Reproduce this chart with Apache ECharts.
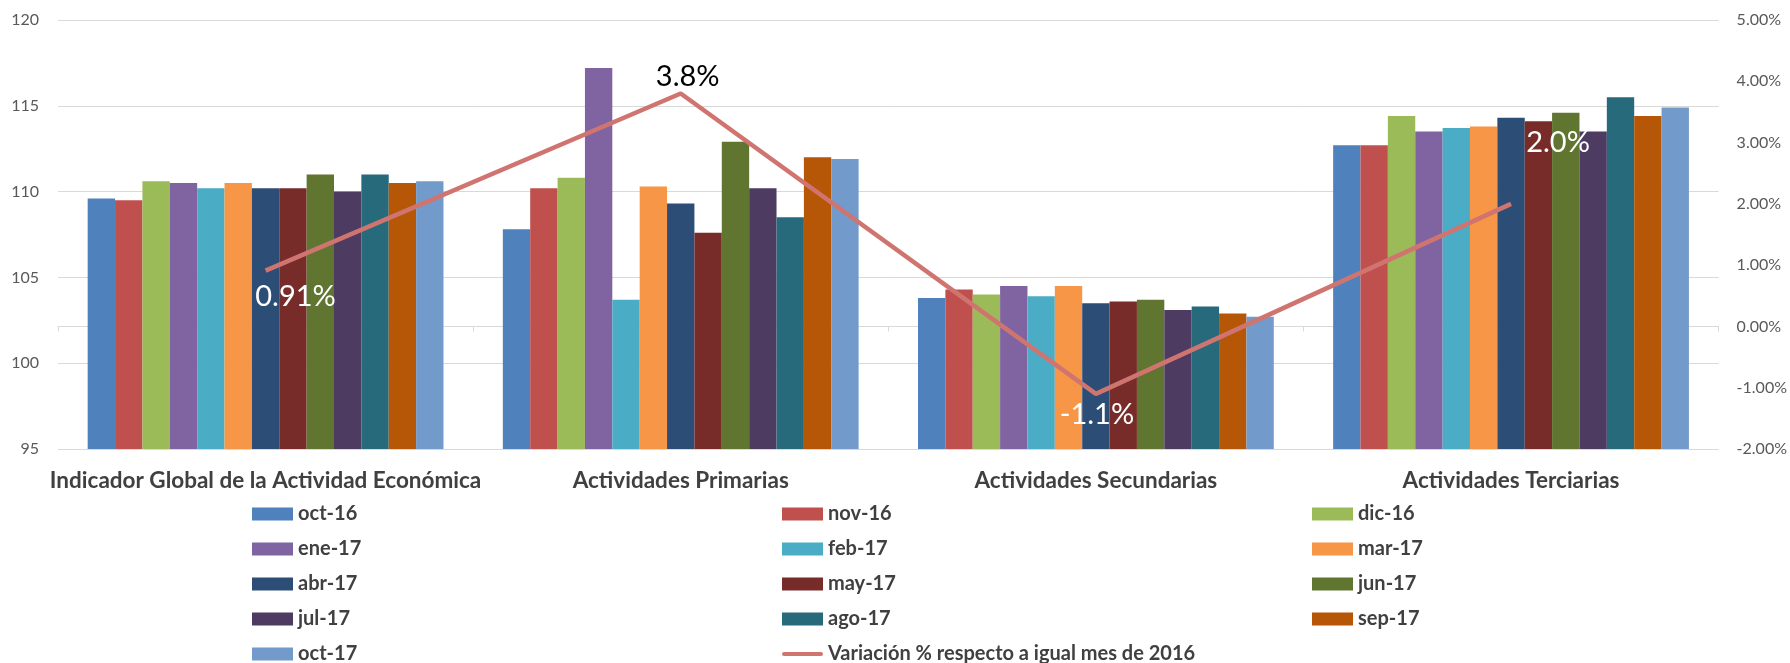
<!DOCTYPE html>
<html>
<head>
<meta charset="utf-8">
<script src="https://cdn.jsdelivr.net/npm/echarts@6/dist/echarts.min.js"></script>
<style>
  html, body { margin: 0; padding: 0; background: #fff; }
  #chart { width: 1790px; height: 663px; }
</style>
</head>
<body>
<div id="chart"></div>
<script>
var categorias = ['Indicador Global de la Actividad Económica', 'Actividades Primarias', 'Actividades Secundarias', 'Actividades Terciarias'];

var meses = ['oct-16', 'nov-16', 'dic-16', 'ene-17', 'feb-17', 'mar-17', 'abr-17', 'may-17', 'jun-17', 'jul-17', 'ago-17', 'sep-17', 'oct-17'];

// indice por mes: [IGAE, primarias, secundarias, terciarias]
var oct16 = [109.6, 107.8, 103.8, 112.7];
var nov16 = [109.5, 110.2, 104.3, 112.7];
var dic16 = [110.6, 110.8, 104.0, 114.4];
var ene17 = [110.5, 117.2, 104.5, 113.5];
var feb17 = [110.2, 103.7, 103.9, 113.7];
var mar17 = [110.5, 110.3, 104.5, 113.8];
var abr17 = [110.2, 109.3, 103.5, 114.3];
var may17 = [110.2, 107.6, 103.6, 114.1];
var jun17 = [111.0, 112.9, 103.7, 114.6];
var jul17 = [110.0, 110.2, 103.1, 113.5];
var ago17 = [111.0, 108.5, 103.3, 115.5];
var sep17 = [110.5, 112.0, 102.9, 114.4];
var oct17 = [110.6, 111.9, 102.7, 114.9];

var variacion = [0.91, 3.8, -1.1, 2.0];
var variacionTxt = ['0.91%', '3.8%', '-1.1%', '2.0%'];
var nombreLinea = 'Variación % respecto a igual mes de 2016';

var colores = ['#4F81BD', '#C0504D', '#9BBB59', '#8064A2', '#4BACC6', '#F79646', '#2C4D75', '#772C2A', '#5F7530', '#4D3B62', '#276A7C', '#B65708', '#729ACA'];
var valores = [oct16, nov16, dic16, ene17, feb17, mar17, abr17, may17, jun17, jul17, ago17, sep17, oct17];

var chart = echarts.init(document.getElementById('chart'));

var series = [];
for (var i = 0; i < meses.length; i++) {
	series.push({
		name : meses[i],
		type : 'bar',
		data : valores[i],
		barGap : '0%',
		barCategoryGap : '14.3%',
		itemStyle : { color : colores[i] }
	});
}

// posicion de cada etiqueta respecto al punto
var offsets = [[30, 26], [7, -17], [1, 21], [47, -61]];
var colorTxt = ['#ffffff', '#000000', '#ffffff', '#ffffff'];
var lineData = [];
for (var j = 0; j < variacion.length; j++) {
	lineData.push({
		value : variacion[j],
		label : {
			show : true,
			position : 'inside',
			offset : offsets[j],
			formatter : variacionTxt[j],
			color : colorTxt[j],
			fontSize : 29,
			fontFamily : 'Lato'
		}
	});
}

series.push({
	name : nombreLinea,
	type : 'line',
	yAxisIndex : 1,
	data : lineData,
	symbol : 'circle',
	symbolSize : 0,
	z : 5,
	lineStyle : { color : '#D07470', width : 4.5 },
	itemStyle : { color : '#D07470' }
});

var legendData = [];
for (var k = 0; k < meses.length; k++) {
	legendData.push({ name : meses[k], icon : 'rect' });
}
legendData.push({ name : nombreLinea, icon : 'path://M2,0 L39,0 A2,2 0 0 1 39,4 L2,4 A2,2 0 0 1 2,0 Z' });

var option = {
	animation : false,
	textStyle : { fontFamily : 'Lato' },
	grid : {
		left : 58,
		right : 70,
		top : 20,
		bottom : 214
	},
	legend : {
		left : 252,
		top : 504,
		width : 1600,
		itemWidth : 41,
		itemHeight : 13,
		itemGap : 15,
		padding : 0,
		data : legendData,
		textStyle : {
			color : '#404040',
			fontSize : 20,
			fontWeight : 'bold',
			width : 469,
			height : 20,
			lineHeight : 20
		}
	},
	xAxis : {
		type : 'category',
		data : categorias,
		axisLine : { lineStyle : { color : '#D9D9D9' } },
		axisTick : { show : true, length : 5, lineStyle : { color : '#D9D9D9' } },
		axisLabel : {
			interval : 0,
			color : '#404040',
			fontSize : 22.5,
			fontWeight : 'bold',
			margin : 20
		}
	},
	yAxis : [{
		type : 'value',
		min : 95,
		max : 120,
		interval : 5,
		axisLine : { show : false },
		axisTick : { show : false },
		axisLabel : { color : '#595959', fontSize : 16, margin : 19 },
		splitLine : { lineStyle : { color : '#D9D9D9' } }
	}, {
		type : 'value',
		min : -2,
		max : 5,
		interval : 1,
		axisLine : { show : false },
		axisTick : { show : false },
		axisLabel : {
			color : '#595959',
			fontSize : 16,
			margin : 18,
			formatter : function (v) { return v.toFixed(2) + '%'; }
		},
		splitLine : { show : false }
	}],
	series : series
};

chart.setOption(option);
</script>
</body>
</html>
